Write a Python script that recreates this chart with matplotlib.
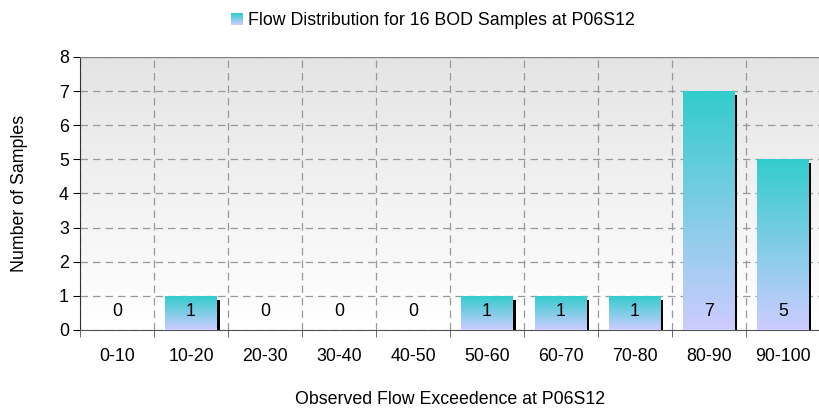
import numpy as np
import matplotlib
matplotlib.use("Agg")
import matplotlib.pyplot as plt
import matplotlib.colors as mcolors
from matplotlib.patches import Rectangle
from matplotlib.legend_handler import HandlerBase

plt.rcParams["font.family"] = ["Liberation Sans", "DejaVu Sans"]

# data
categories = ["0-10", "10-20", "20-30", "30-40", "40-50",
              "50-60", "60-70", "70-80", "80-90", "90-100"]
counts = [0, 1, 0, 0, 0, 1, 1, 1, 7, 5]
legend_label = "Flow Distribution for 16 BOD Samples at P06S12"

TOP_COLOR = "#33CCCC"
BOT_COLOR = "#CCCCFF"
bar_cmap = mcolors.LinearSegmentedColormap.from_list("bar", [BOT_COLOR, TOP_COLOR])
bg_cmap = mcolors.LinearSegmentedColormap.from_list("bg", ["#FFFFFF", "#E4E4E4"])

FS = 12.8
N_STEPS = 64

fig = plt.figure(figsize=(8.2, 4.13), dpi=100)
ax = fig.add_axes([0.0976, 0.201, 0.9024, 0.661])
ax.set_facecolor("white")

x = np.arange(len(categories))
ax.set_xlim(-0.5, len(categories) - 0.5)
ax.set_ylim(0, 8)

# plot-area background gradient
yy = np.linspace(0, 8, N_STEPS + 1)
ax.pcolormesh([-0.5, len(categories) - 0.5], yy,
              np.linspace(0, 1, N_STEPS).reshape(-1, 1),
              cmap=bg_cmap, shading="flat", antialiased=False,
              edgecolors="none", zorder=0)

# ticks and grid
ax.set_xticks(np.arange(len(categories) + 1) - 0.5, minor=True)
ax.set_xticks(x)
ax.set_xticklabels(categories, fontsize=FS)
ax.set_yticks(range(0, 9))
ax.tick_params(axis="y", labelsize=FS, length=5, direction="out", pad=3)
ax.tick_params(axis="x", which="major", length=0, pad=13)
ax.tick_params(axis="x", which="minor", length=5, direction="out", color="#555555")
dash = (0, (6, 4))
ax.grid(True, axis="y", which="major", linestyle=dash, color="#999999", linewidth=0.9)
ax.grid(True, axis="x", which="minor", linestyle=dash, color="#999999", linewidth=0.9)
ax.set_axisbelow(True)

# bars with gradient + shadow
width = 0.69
bars = ax.bar(x, counts, width=width, facecolor="none", edgecolor="none",
              linewidth=0, zorder=3)
for bar, c in zip(bars, counts):
    x0, x1 = bar.get_x(), bar.get_x() + bar.get_width()
    if c > 0:
        ax.add_patch(Rectangle((x1, 0), 0.04, c - 0.12, facecolor="black",
                               edgecolor="none", zorder=2))
        ax.pcolormesh([x0, x1], np.linspace(0, c, N_STEPS + 1),
                      np.linspace(0, 1, N_STEPS).reshape(-1, 1),
                      cmap=bar_cmap, shading="flat", antialiased=False,
                      edgecolors="none", zorder=3)
    ax.text(x0 + width / 2, 0.55, str(c), ha="center", va="center",
            fontsize=FS, zorder=4)

ax.set_xlim(-0.5, len(categories) - 0.5)
ax.set_ylim(0, 8)

for s in ["top", "right"]:
    ax.spines[s].set_visible(False)
ax.spines["left"].set_color("#333333")
ax.spines["bottom"].set_color("#555555")
ax.axhline(8, color="#808080", linewidth=1.6, zorder=5)

ax.set_ylabel("Number of Samples", fontsize=FS, labelpad=22)
ax.set_xlabel("Observed Flow Exceedence at P06S12", fontsize=FS, labelpad=19)


class GradientHandler(HandlerBase):
    def create_artists(self, legend, orig_handle, xdescent, ydescent,
                       width, height, fontsize, trans):
        n = 12
        arts = []
        for i in range(n):
            col = bar_cmap(i / (n - 1))
            r = Rectangle((-xdescent, -ydescent + height * i / n), width, height / n + 0.3,
                          facecolor=col, edgecolor="none", transform=trans)
            arts.append(r)
        return arts


handle = Rectangle((0, 0), 1, 1)
fig.legend([handle], [legend_label], handler_map={Rectangle: GradientHandler()},
           loc="upper center", bbox_to_anchor=(0.528, 1.0), frameon=False,
           fontsize=FS, handlelength=0.68, handleheight=0.68, handletextpad=0.3,
           borderaxespad=0.3)

fig.savefig("out.png", dpi=100)
